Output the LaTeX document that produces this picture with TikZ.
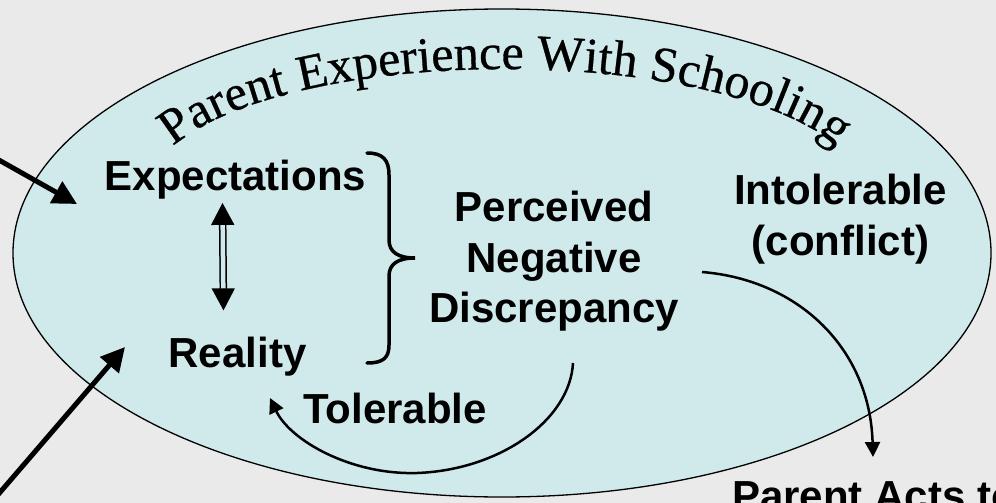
\documentclass[tikz,border=0pt]{standalone}
\usepackage{fontspec}
\setmainfont{Liberation Sans}
\newfontfamily\titlefont{Liberation Serif}[FakeBold=0.6]
\usetikzlibrary{arrows.meta,decorations.text,calc}
\definecolor{pagebg}{HTML}{EAEAEA}
\definecolor{ovalfill}{HTML}{D0EAEC}

\begin{document}
\begin{tikzpicture}[x=1pt,y=-1pt,
  labeltext/.style={font=\bfseries\fontsize{42}{50.5}\selectfont, inner sep=0pt, align=center},
  bigarrow/.style={line width=5pt, -{Triangle[length=24pt,width=24pt]}},
  flowarrow/.style={line width=2.5pt, -{Triangle[length=15pt,width=15pt]}},
  bracepen/.style={line width=3.5pt, line cap=round},
]
\useasboundingbox (0,0) rectangle (996,503);
\clip (0,0) rectangle (996,503);
\fill[pagebg] (0,0) rectangle (996,503);

% the schooling oval
\draw[line width=1.3pt, fill=ovalfill] (502,253) ellipse [x radius=489, y radius=244];

% arched title
\path[decorate, decoration={text along path, text align=center,
    text={|\titlefont\fontsize{50}{50}\selectfont|Parent Experience With Schooling}}]
  plot[domain=190:350, samples=140] ({505+355*cos(\x)}, {189+120*sin(\x)});

% labels
\node[labeltext, anchor=base] (exp) at (235.5,190) {Expectations};
\node[labeltext, anchor=base] (real) at (237.5,367) {Reality};
\node[labeltext, anchor=north] (pnd) at (554,191) {Perceived\\Negative\\Discrepancy};
\node[labeltext, anchor=north] (intol) at (840.5,174) {Intolerable\\(conflict)};
\node[labeltext, anchor=base] (tol) at (395,423) {Tolerable};
\node[labeltext, anchor=base west] (acts) at (732,510) {Parent Acts to};

% connector end points
\coordinate (inA0) at (-10,155);
\coordinate (inA1) at (77,204);
\coordinate (inB0) at (-10,504);
\coordinate (inB1) at (125,347);
\coordinate (cmpA) at ($(exp.south)+(-13,4)$);
\coordinate (cmpB) at ($(real.north)+(-14,-26)$);
\coordinate (tolS) at (573,363);
\coordinate (tolE) at (270,398);
\coordinate (intS) at (702,272);
\coordinate (intE) at (873,457);

% incoming influences
\draw[bigarrow] (inA0) -- (inA1);
\draw[bigarrow] (inB0) -- (inB1);

% expectations vs reality
\draw[line width=1.5pt, double=ovalfill, double distance=4.5pt,
  {Triangle[length=22pt,width=23pt]}-{Triangle[length=22pt,width=23pt]}] (cmpA) -- (cmpB);

% brace grouping both
\draw[bracepen] (367,153) .. controls (383,153) and (389,160) .. (389,175)
  -- (389,240) .. controls (389,252) and (398,258) .. (415,258)
  .. controls (398,258) and (389,264) .. (389,276)
  -- (389,345) .. controls (389,358) and (383,363) .. (367,363);

% outcomes
\draw[flowarrow] (tolS) .. controls (570,420) and (500,470) .. (417,473)
  .. controls (350,475) and (290,440) .. (tolE);
\draw[flowarrow] (intS) .. controls (800,280) and (870,350) .. (intE);
\end{tikzpicture}
\end{document}
